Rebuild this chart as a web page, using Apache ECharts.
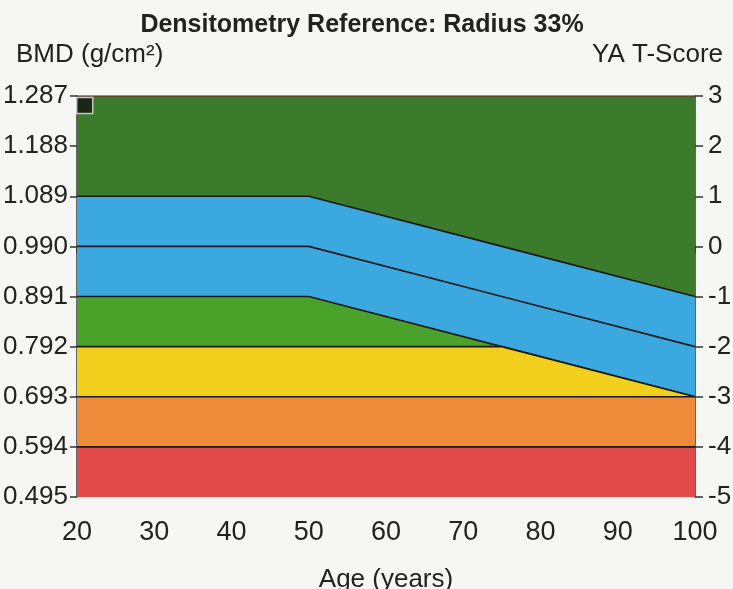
<!DOCTYPE html>
<html>
<head>
<meta charset="utf-8">
<script src="https://cdn.jsdelivr.net/npm/echarts@6/dist/echarts.min.js"></script>
<style>
html,body{margin:0;padding:0;background:#f6f6f4;}
#c{width:733px;height:589px;}
</style>
</head>
<body>
<div id="c"></div>
<script>
// ---- data ----
var ages = [20, 50, 75, 100];
var topLine      = [1.287, 1.287, 1.287, 1.287];
var blueTop      = [1.089, 1.089, 0.990, 0.891];
var blueMid      = [0.990, 0.990, 0.891, 0.792];
var blueLow      = [0.891, 0.891, 0.792, 0.693];
var yellowTop    = [0.792, 0.792, 0.792, 0.693];
var orangeTop    = [0.693, 0.693, 0.693, 0.693];
var redTop       = [0.594, 0.594, 0.594, 0.594];
var patientPoint = [[21, 1.268]];
var bmdMin = 0.495, bmdMax = 1.287, bmdStep = 0.099;
var tMin = -5, tMax = 3, tStep = 1;
var ageMin = 20, ageMax = 100, ageStep = 10;

function pts(arr){ return ages.map(function(a,i){ return [a, arr[i]]; }); }

var FONT = 'Liberation Sans, Arial, sans-serif';
var TXT = '#222';

function band(name, arr, color, lineColor, z){
  return {
    name: name, type: 'line', data: pts(arr), symbol: 'none', z: z,
    lineStyle: {color: lineColor, width: 1.6},
    areaStyle: {color: color, opacity: 1, origin: 'start'},
    animation: false
  };
}

var chart = echarts.init(document.getElementById('c'), null, {renderer: 'canvas'});
chart.setOption({
  backgroundColor: '#f6f6f4',
  animation: false,
  textStyle: {fontFamily: FONT},
  title: [
    {text: 'Densitometry Reference: Radius 33%', left: 357, textAlign: 'center', top: 8,
     textStyle: {fontFamily: FONT, fontSize: 25, fontWeight: 'bold', color: TXT}},
    {text: 'BMD (g/cm\u00b2)', left: 11, top: 37,
     textStyle: {fontFamily: FONT, fontSize: 26, fontWeight: 'normal', color: TXT}},
    {text: 'YA T-Score', right: 5, top: 37,
     textStyle: {fontFamily: FONT, fontSize: 26, fontWeight: 'normal', color: TXT}}
  ],
  grid: {left: 77, right: 38, top: 96, bottom: 92, containLabel: false, outerBoundsMode: 'none'},
  xAxis: {
    type: 'value', min: ageMin, max: ageMax, interval: ageStep,
    name: 'Age (years)', nameLocation: 'middle', nameGap: 70,
    nameTextStyle: {fontFamily: FONT, fontSize: 26, color: TXT},
    axisLine: {show: true, lineStyle: {color: '#333', width: 1.5}},
    axisTick: {show: true, inside: false, length: 7, lineStyle: {color: '#333', width: 1.5}},
    minorTick: {show: true, splitNumber: 2, length: 7, lineStyle: {color: '#333', width: 1.5}},
    axisLabel: {fontFamily: FONT, fontSize: 27, color: TXT, margin: 22},
    splitLine: {show: false}
  },
  yAxis: [
    {
      type: 'value', min: bmdMin, max: bmdMax, interval: bmdStep, position: 'left',
      axisLine: {show: true, lineStyle: {color: '#333', width: 1.5}},
      axisTick: {show: true, inside: false, length: 7, lineStyle: {color: '#333', width: 1.5}},
      axisLabel: {fontFamily: FONT, fontSize: 26, color: TXT, margin: 9,
        formatter: function(v){ return v.toFixed(3); }},
      splitLine: {show: false}
    },
    {
      type: 'value', min: tMin, max: tMax, interval: tStep, position: 'right',
      axisLine: {show: true, lineStyle: {color: '#333', width: 1.5}},
      axisTick: {show: true, inside: false, length: 8, lineStyle: {color: '#333', width: 1.5}},
      axisLabel: {fontFamily: FONT, fontSize: 26, color: TXT, margin: 13},
      splitLine: {show: false}
    }
  ],
  series: [
    band('top', topLine, '#3c7a2c', '#6a3a26', 1),
    band('blueTop', blueTop, '#3ca8e0', '#1a1a1a', 2),
    band('blueLow', blueLow, '#4ba22b', '#1a1a1a', 3),
    band('yellow', yellowTop, '#f2cf1d', '#1a1a1a', 4),
    band('orange', orangeTop, '#ee8b3b', '#1a1a1a', 5),
    band('red', redTop, '#e24a49', '#1a1a1a', 6),
    {name: 'blueMid', type: 'line', data: pts(blueMid), symbol: 'none', z: 7,
     lineStyle: {color: '#1a1a1a', width: 1.6}, animation: false},
    {name: 'patient', type: 'scatter', data: patientPoint, symbol: 'rect', symbolSize: 16, z: 10,
     itemStyle: {color: '#111', borderColor: '#e8e8e8', borderWidth: 1.5}, animation: false}
  ]
});
</script>
</body>
</html>
